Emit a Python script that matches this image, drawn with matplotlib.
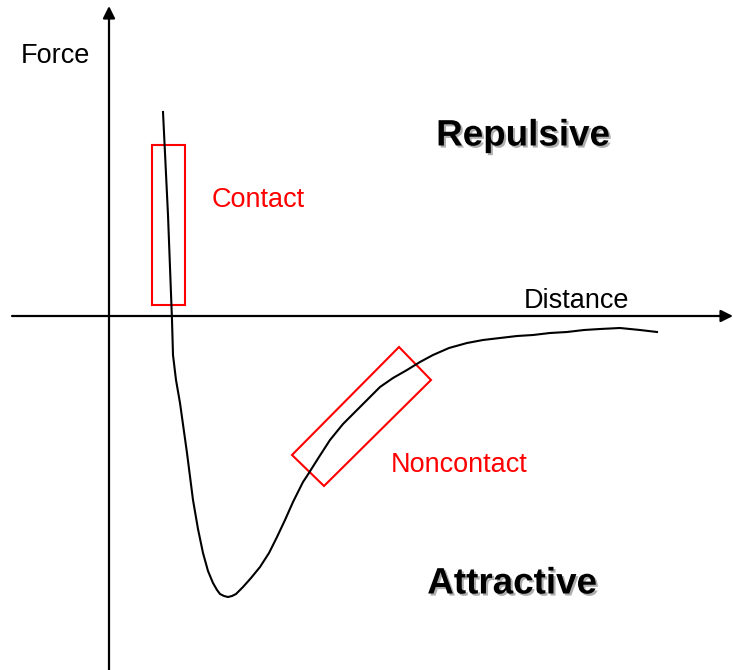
import matplotlib.pyplot as plt
import matplotlib.patheffects as pe
from matplotlib.patches import Rectangle, Polygon

plt.rcParams['font.family'] = ['Liberation Sans', 'DejaVu Sans']

# force-distance curve (schematic), origin at the axis crossing
distance = [54, 59, 63, 64, 67, 71, 78, 84, 89, 94, 99, 104, 108, 111, 115, 119, 123, 127, 134, 142,
            151, 160, 168, 176, 184, 194, 198, 210, 221, 234, 248, 260, 271, 284, 298, 311, 324,
            340, 358, 374, 391, 408, 424, 441, 458, 475, 491, 511, 531, 548]
force = [204, 101, -4, -39, -64, -87, -137, -184, -213, -237, -255, -267, -274, -278, -280, -281,
         -280, -278, -271, -262, -251, -237, -221, -204, -186, -166, -160, -141, -124, -108, -94,
         -82, -71, -62, -54, -46, -39, -32, -27, -24, -22, -20, -19, -17, -16, -14, -13, -12,
         -14, -16]

# regions
contact_box = [(43, 11), 33, 160]          # corner, width, height
noncontact_box = [(290, -31), (322, -64), (215, -170), (183, -139)]

x_range = (-109, 624)
y_range = (-354, 316)
x_axis_start = -97
y_axis_end = 310

fig = plt.figure(figsize=(7.33, 6.70), dpi=100)
ax = fig.add_axes([0, 0, 1, 1])
ax.set_xlim(x_range)
ax.set_ylim(y_range)
ax.axis('off')

# axes with arrows
arrow = dict(arrowstyle='-|>', color='black', lw=1.6, mutation_scale=18, shrinkA=0, shrinkB=0)
ax.annotate('', xy=(0, y_axis_end), xytext=(0, y_range[0]), arrowprops=arrow)
ax.annotate('', xy=(x_range[1], 0), xytext=(x_axis_start, 0), arrowprops=arrow)

ax.plot(distance, force, color='black', lw=1.5, solid_joinstyle='round')

ax.add_patch(Rectangle(contact_box[0], contact_box[1], contact_box[2],
                       fill=False, edgecolor='red', lw=1.5))
ax.add_patch(Polygon(noncontact_box, closed=True, fill=False, edgecolor='red', lw=1.5))

ax.text(-54, 260, 'Force', fontsize=19.5, ha='center', va='center')
ax.text(467, 15, 'Distance', fontsize=19.5, ha='center', va='center')
ax.text(149, 116, 'Contact', fontsize=19.5, color='red', ha='center', va='center')
ax.text(350, -149, 'Noncontact', fontsize=19.5, color='red', ha='center', va='center')

shadow = [pe.withSimplePatchShadow(offset=(1.5, -1.5), shadow_rgbFace='0.55', alpha=0.7)]
ax.text(414, 180, 'Repulsive', fontsize=26.5, fontweight='bold', ha='center', va='center',
        path_effects=shadow)
ax.text(403, -268, 'Attractive', fontsize=26.5, fontweight='bold', ha='center', va='center',
        path_effects=shadow)

fig.savefig('out.png', dpi=100)
